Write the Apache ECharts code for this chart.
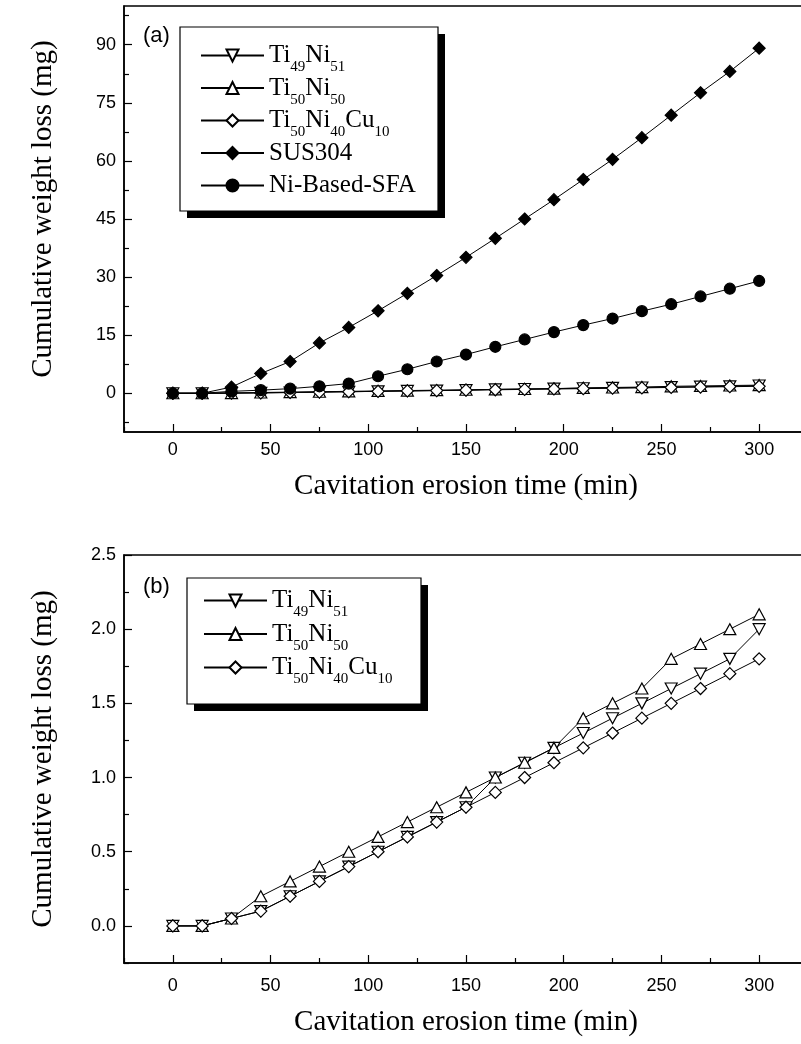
<!DOCTYPE html>
<html>
<head>
<meta charset="utf-8">
<script src="https://cdn.jsdelivr.net/npm/echarts@6/dist/echarts.min.js"></script>
<style>
  html, body { margin: 0; padding: 0; background: #fff; }
  #chart { width: 801px; height: 1044px; }
</style>
</head>
<body>
<div id="chart"></div>
<script>
// erosion time, min
const times = [0, 15, 30, 45, 60, 75, 90, 105, 120, 135, 150, 165, 180, 195, 210, 225, 240, 255, 270, 285, 300];

// cumulative weight loss, mg
const ti49ni51 = [0, 0, 0.05, 0.1, 0.2, 0.3, 0.4, 0.5, 0.6, 0.7, 0.8, 1.0, 1.1, 1.2, 1.3, 1.4, 1.5, 1.6, 1.7, 1.8, 2.0];
const ti50ni50 = [0, 0, 0.05, 0.2, 0.3, 0.4, 0.5, 0.6, 0.7, 0.8, 0.9, 1.0, 1.1, 1.2, 1.4, 1.5, 1.6, 1.8, 1.9, 2.0, 2.1];
const ti50ni40cu10 = [0, 0, 0.05, 0.1, 0.2, 0.3, 0.4, 0.5, 0.6, 0.7, 0.8, 0.9, 1.0, 1.1, 1.2, 1.3, 1.4, 1.5, 1.6, 1.7, 1.8];
const sus304 = [0, 0, 1.6, 5.1, 8.2, 13, 17, 21.3, 25.8, 30.4, 35.1, 40, 45, 50, 55.2, 60.4, 66, 71.8, 77.6, 83.1, 89.1];
const niSfa = [0, 0, 0.5, 0.8, 1.2, 1.8, 2.5, 4.4, 6.2, 8.2, 10, 12, 13.9, 15.8, 17.6, 19.3, 21.2, 23, 25, 27, 29];

// ticks
const xMajor = [0, 50, 100, 150, 200, 250, 300];
const xMinor = [-25, 25, 75, 125, 175, 225, 275, 325];
const yMajorA = [0, 15, 30, 45, 60, 75, 90];
const yMinorA = [-7.5, 7.5, 22.5, 37.5, 52.5, 67.5, 82.5, 97.5];
const yMajorB = [0, 0.5, 1.0, 1.5, 2.0, 2.5];
const yMinorB = [-0.25, 0.25, 0.75, 1.25, 1.75, 2.25];

const legendA = ['Ti49Ni51', 'Ti50Ni50', 'Ti50Ni40Cu10', 'SUS304', 'Ni-Based-SFA'];
const legendB = ['Ti49Ni51', 'Ti50Ni50', 'Ti50Ni40Cu10'];
// the empty subscript keeps every legend row the same height
const legendText = {
  'Ti49Ni51': '{m|Ti}{s|49}{m|Ni}{s|51}',
  'Ti50Ni50': '{m|Ti}{s|50}{m|Ni}{s|50}',
  'Ti50Ni40Cu10': '{m|Ti}{s|50}{m|Ni}{s|40}{m|Cu}{s|10}',
  'SUS304': '{m|SUS304}{s| }',
  'Ni-Based-SFA': '{m|Ni-Based-SFA}{s| }'
};

const downTri = 'path://M0,0L12,0L6,11Z';
const upTri = 'path://M6,0L12,11L0,11Z';

const sans = 'Liberation Sans, Arial, sans-serif';
const serif = 'Liberation Serif, Times New Roman, serif';

const pairs = vals => times.map((t, i) => [t, vals[i]]);

const line = (name, vals, symbol, size, fill, axis) => ({
  name,
  type: 'line',
  data: pairs(vals),
  xAxisIndex: axis,
  yAxisIndex: axis,
  symbol,
  symbolSize: size,
  showAllSymbol: true,
  lineStyle: { color: '#000', width: 1 },
  itemStyle: { color: fill, borderColor: '#000', borderWidth: 1.2 },
  emphasis: { disabled: true },
  animation: false
});

const xAxes = (grid, margin, gap) => [
  {
    gridIndex: grid, type: 'value', min: -25, max: 325, position: 'bottom',
    axisLine: { onZero: false, lineStyle: { color: '#000', width: 1.5 } },
    axisTick: { inside: true, length: 8, customValues: xMajor, lineStyle: { color: '#000', width: 1.2 } },
    axisLabel: { customValues: xMajor, margin, color: '#000', fontSize: 18, fontFamily: sans },
    splitLine: { show: false },
    name: 'Cavitation erosion time (min)', nameLocation: 'middle', nameGap: gap,
    nameTextStyle: { color: '#000', fontSize: 29, fontFamily: serif }
  },
  {
    gridIndex: grid, type: 'value', min: -25, max: 325, position: 'bottom',
    axisLine: { show: false, onZero: false },
    axisTick: { inside: true, length: 5, customValues: xMinor, lineStyle: { color: '#000', width: 1.2 } },
    axisLabel: { show: false },
    splitLine: { show: false }
  }
];

const yAxes = (grid, min, max, major, minor, fmt, namePad) => [
  {
    gridIndex: grid, type: 'value', min, max, position: 'left',
    axisLine: { show: true, onZero: false, lineStyle: { color: '#000', width: 1.5 } },
    axisTick: { show: true, inside: true, length: 8, customValues: major, lineStyle: { color: '#000', width: 1.2 } },
    axisLabel: { customValues: major, margin: 8, color: '#000', fontSize: 18, fontFamily: sans, formatter: fmt },
    splitLine: { show: false },
    name: 'Cumulative weight loss (mg)', nameLocation: 'middle', nameGap: 66,
    nameTextStyle: { color: '#000', fontSize: 29, fontFamily: serif, padding: namePad }
  },
  {
    gridIndex: grid, type: 'value', min, max, position: 'left',
    axisLine: { show: false, onZero: false },
    axisTick: { show: true, inside: true, length: 5, customValues: minor, lineStyle: { color: '#000', width: 1.2 } },
    axisLabel: { show: false },
    splitLine: { show: false }
  }
];

const legend = (names, left, top, gap) => ({
  data: names,
  orient: 'vertical',
  left, top,
  padding: 0,
  itemGap: gap,
  itemWidth: 63,
  itemHeight: 15,
  selectedMode: false,
  formatter: n => legendText[n],
  textStyle: {
    color: '#000',
    rich: {
      m: { fontSize: 25, lineHeight: 33, fontFamily: serif, color: '#000' },
      s: { fontSize: 15, lineHeight: 33, fontFamily: serif, color: '#000', padding: [24, 0, 0, 0] }
    }
  }
});

// framed box with a solid offset shadow, drawn behind each legend
const legendFrame = (x, y, w, h) => [
  { type: 'rect', z: 3, shape: { x: x + 7, y: y + 7, width: w, height: h }, style: { fill: '#000' } },
  { type: 'rect', z: 3, shape: { x, y, width: w, height: h }, style: { fill: '#fff', stroke: '#000', lineWidth: 1.2 } }
];

const chart = echarts.init(document.getElementById('chart'), null, { renderer: 'canvas' });

chart.setOption({
  animation: false,
  backgroundColor: '#fff',
  title: [
    { text: '(a)', left: 143, top: 25, padding: 0, textStyle: { fontSize: 22, fontWeight: 'normal', fontFamily: sans, color: '#000' } },
    { text: '(b)', left: 143, top: 576, padding: 0, textStyle: { fontSize: 22, fontWeight: 'normal', fontFamily: sans, color: '#000' } }
  ],
  grid: [
    { left: 124, top: 6, width: 684, height: 426, show: true, borderColor: '#000', borderWidth: 1.5, outerBoundsMode: 'none' },
    { left: 124, top: 555, width: 684, height: 408, show: true, borderColor: '#000', borderWidth: 1.5, outerBoundsMode: 'none' }
  ],
  graphic: [
    ...legendFrame(180, 27, 258, 184),
    ...legendFrame(187, 578, 234, 126)
  ],
  legend: [
    legend(legendA, 200, 36, -6.5),
    legend(legendB, 203, 581, -5.5)
  ],
  xAxis: [...xAxes(0, 9, 40), ...xAxes(1, 14, 45)],
  yAxis: [
    ...yAxes(0, -10, 100, yMajorA, yMinorA, v => String(v), [0, 0, 0, 20]),
    ...yAxes(1, -0.25, 2.5, yMajorB, yMinorB, v => v.toFixed(1), 0)
  ],
  series: [
    line('Ti49Ni51', ti49ni51, downTri, [12, 11], '#fff', 0),
    line('Ti50Ni50', ti50ni50, upTri, [12, 11], '#fff', 0),
    line('Ti50Ni40Cu10', ti50ni40cu10, 'diamond', 12, '#fff', 0),
    line('SUS304', sus304, 'diamond', 12, '#000', 0),
    line('Ni-Based-SFA', niSfa, 'circle', 11, '#000', 0),
    line('Ti49Ni51', ti49ni51, downTri, [12, 11], '#fff', 2),
    line('Ti50Ni50', ti50ni50, upTri, [12, 11], '#fff', 2),
    line('Ti50Ni40Cu10', ti50ni40cu10, 'diamond', 12, '#fff', 2)
  ]
});
</script>
</body>
</html>
